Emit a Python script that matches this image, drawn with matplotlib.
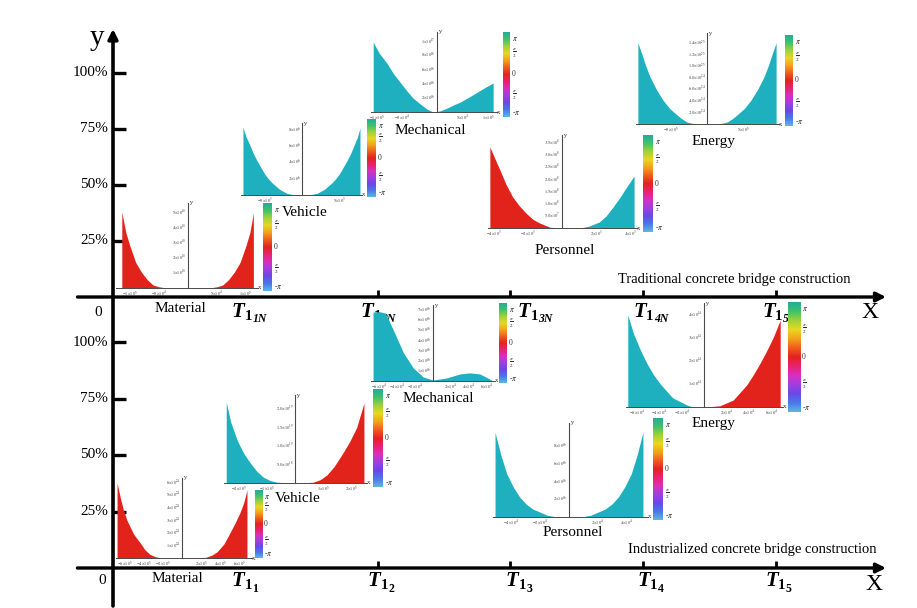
import matplotlib
matplotlib.use('Agg')
import numpy as np
import matplotlib.pyplot as plt
from matplotlib.colors import LinearSegmentedColormap
from matplotlib.markers import TICKUP, TICKRIGHT
from matplotlib.transforms import offset_copy

plt.rcParams['font.family'] = ['Liberation Serif', 'DejaVu Serif']
plt.rcParams['mathtext.fontset'] = 'stix'

W, H = 917, 608
TEAL = '#1eb0bf'
RED = '#e2231c'

# ---------------- data ----------------
pct_values = [0.25, 0.50, 0.75, 1.00]
pct_labels = ['25%', '50%', '75%', '100%']
stage_pos = [1, 2, 3, 4, 5]
tick_stages = [2, 3, 4, 5]
stage_sub1 = ['1', '1', '1', '1', '1']
top_stage_sub2 = ['1N', '2N', '3N', '4N', '5N']
bot_stage_sub2 = ['1', '2', '3', '4', '5']
section_titles = ['Traditional concrete bridge construction',
                  'Industrialized concrete bridge construction']
cbar_ticks = [-np.pi, -np.pi / 2, 0, np.pi / 2, np.pi]
cbar_labels = [r'-$\pi$', r'$\frac{\pi}{2}$', '0', r'$\frac{\pi}{2}$', r'$\pi$']

# --- Traditional: Material
tm_x_left = [-11.4, -10.7, -10, -9, -8, -7, -6, -5, -4, -3, 0]
tm_y_left = [5.07, 3.7, 2.8, 1.7, 1.05, 0.55, 0.2, 0.08, 0.02, 0, 0]
tm_x_right = [0, 3, 4, 5, 6, 7, 8, 9, 10, 10.7, 11.3]
tm_y_right = [0, 0, 0.02, 0.08, 0.2, 0.55, 1.05, 1.7, 2.8, 3.7, 5.0]
tm_xticks = [-10, -5, 5, 10]
tm_xtl = [r'$-1{\times}10^5$', r'$-5{\times}10^4$', r'$5{\times}10^4$', r'$1{\times}10^5$']
tm_yticks = [1, 2, 3, 4, 5]
tm_ytl = [r'$%d{\times}10^{10}$' % v for v in tm_yticks]

# --- Traditional: Vehicle
tv_x_left = [-7.87, -7.5, -7, -6.5, -6, -5.5, -5, -4.5, -4, -3, -2, -1, 0]
tv_y_left = [8.3, 7.2, 6.2, 5.1, 4.2, 3.4, 2.6, 2.0, 1.5, 0.7, 0.2, 0.02, 0]
tv_x_right = [0, 1, 2, 3, 4, 4.5, 5, 5.5, 6, 6.5, 7, 7.4, 7.73]
tv_y_right = [0, 0.02, 0.2, 0.7, 1.5, 2.0, 2.6, 3.4, 4.2, 5.1, 6.2, 7.1, 8.2]
tv_xticks = [-5, 5]
tv_xtl = [r'$-5{\times}10^3$', r'$5{\times}10^3$']
tv_yticks = [2, 4, 6, 8]
tv_ytl = [r'$%d{\times}10^6$' % v for v in tv_yticks]

# --- Traditional: Mechanical
tme_x_left = [-11.6, -10.5, -9.1, -8, -6.7, -5.5, -4.4, -3, -1.8, -0.7]
tme_y_left = [9.85, 8.3, 6.9, 5.5, 4.2, 3.0, 2.0, 1.1, 0.4, 0]
tme_x_right = [-0.7, 0.5, 1.8, 3, 4.2, 5.8, 7.3, 8.8, 10.2]
tme_y_right = [0, 0.15, 0.55, 1.0, 1.4, 2.1, 2.8, 3.5, 4.1]
tme_xticks = [-11, -6.4, 4.7, 9.3]
tme_xtl = [r'$-1{\times}10^5$', r'$-5{\times}10^4$', r'$5{\times}10^4$', r'$1{\times}10^5$']
tme_yticks = [2, 4, 6, 8, 10]
tme_ytl = [r'$2{\times}10^{16}$', r'$4{\times}10^{16}$', r'$6{\times}10^{16}$',
           r'$8{\times}10^{16}$', r'$1{\times}10^{17}$']

# --- Traditional: Energy
te_x_left = [-9.6, -9, -8.5, -7.9, -7, -6.1, -5.2, -4.2, -3.5, -2.8, -2, -1, 0]
te_y_left = [14.0, 11.9, 10.0, 8.1, 5.9, 4.1, 2.7, 1.6, 0.9, 0.35, 0.1, 0, 0]
te_x_right = [0, 1, 2, 2.8, 3.5, 4.2, 5.2, 6.1, 7, 7.9, 8.5, 9, 9.6]
te_y_right = [0, 0, 0.1, 0.35, 0.9, 1.6, 2.7, 4.1, 5.9, 8.1, 10.0, 11.9, 14.0]
te_xticks = [-5, 5]
te_xtl = [r'$-5{\times}10^5$', r'$5{\times}10^5$']
te_yticks = [2, 4, 6, 8, 10, 12, 14]
te_ytl = [r'$2.0{\times}10^{24}$', r'$4.0{\times}10^{24}$', r'$6.0{\times}10^{24}$',
          r'$8.0{\times}10^{24}$', r'$1.0{\times}10^{25}$', r'$1.2{\times}10^{25}$',
          r'$1.4{\times}10^{25}$']

# --- Traditional: Personnel
tp_x_left = [-4.24, -3.95, -3.65, -3.3, -2.9, -2.5, -2.1, -1.7, -1.3, -0.7, 0]
tp_y_left = [3.32, 2.85, 2.38, 1.8, 1.27, 0.9, 0.6, 0.35, 0.2, 0.03, 0]
tp_x_right = [0, 1.06, 1.6, 2.2, 2.6, 3.0, 3.4, 3.8, 4.24]
tp_y_right = [0, 0, 0.08, 0.25, 0.5, 0.86, 1.25, 1.68, 2.13]
tp_xticks = [-4, -2, 2, 4]
tp_xtl = [r'$-4{\times}10^3$', r'$-2{\times}10^3$', r'$2{\times}10^3$', r'$4{\times}10^3$']
tp_yticks = [0.5, 1.0, 1.5, 2.0, 2.5, 3.0, 3.5]
tp_ytl = [r'$5.0{\times}10^7$'] + [r'$%.1f{\times}10^8$' % v for v in tp_yticks[1:]]

# --- Industrialized: Material
bm_x_left = [-6.84, -6.5, -6.2, -5.8, -5.1, -4.4, -3.9, -3.4, -2.8, -2.3, 0]
bm_y_left = [5.95, 4.8, 3.9, 3.0, 1.9, 1.2, 0.65, 0.3, 0.1, 0.02, 0]
bm_x_right = [0, 2.5, 3.2, 3.7, 4.4, 5.05, 5.6, 6.1, 6.5, 6.84]
bm_y_right = [0, 0.05, 0.25, 0.5, 1.1, 2.0, 2.8, 3.6, 4.4, 5.4]
bm_xticks = [-6, -4, -2, 2, 4, 6]
bm_xtl = [r'$%d{\times}10^5$' % v for v in bm_xticks]
bm_yticks = [1, 2, 3, 4, 5, 6]
bm_ytl = [r'$%d{\times}10^{24}$' % v for v in bm_yticks]

# --- Industrialized: Vehicle
bv_x_left = [-2.46, -2.3, -2.07, -1.85, -1.6, -1.37, -1.14, -0.9, -0.64, 0]
bv_y_left = [2.19, 1.65, 1.16, 0.82, 0.54, 0.32, 0.16, 0.07, 0.02, 0]
bv_x_right = [0, 0.64, 0.9, 1.14, 1.4, 1.7, 1.95, 2.2, 2.46]
bv_y_right = [0, 0.02, 0.09, 0.22, 0.45, 0.8, 1.12, 1.5, 2.16]
bv_xticks = [-2, -1, 1, 2]
bv_xtl = [r'$-2{\times}10^5$', r'$-1{\times}10^5$', r'$1{\times}10^5$', r'$2{\times}10^5$']
bv_yticks = [0.5, 1.0, 1.5, 2.0]
bv_ytl = [r'$5.0{\times}10^{18}$', r'$1.0{\times}10^{19}$', r'$1.5{\times}10^{19}$', r'$2.0{\times}10^{19}$']

# --- Industrialized: Mechanical
bme_x_left = [-6.67, -6.0, -5.3, -4.4, -3.3, -2.2, -1.1, 0]
bme_y_left = [6.8, 6.85, 6.7, 5.0, 2.8, 1.3, 0.4, 0.1]
bme_x_right = [0, 1.5, 3.0, 4.1, 5.2, 6.1, 6.55]
bme_y_right = [0.1, 0.3, 0.7, 0.8, 0.7, 0.3, 0.05]
bme_xticks = [-6, -4, -2, 2, 4, 6]
bme_xtl = [r'$%d{\times}10^4$' % v for v in bme_xticks]
bme_yticks = [1, 2, 3, 4, 5, 6, 7]
bme_ytl = [r'$%d{\times}10^{16}$' % v for v in bme_yticks]

# --- Industrialized: Energy
be_x_left = [-6.8, -6.3, -5.7, -5.1, -4.5, -3.9, -2.8, -1.5, -1.0, 0]
be_y_left = [4.0, 3.2, 2.5, 1.9, 1.4, 1.0, 0.4, 0.08, 0, 0]
be_x_right = [0, 1.4, 2.6, 3.8, 4.4, 5.0, 5.6, 6.2, 6.8]
be_y_right = [0, 0.05, 0.3, 0.95, 1.4, 1.9, 2.45, 3.05, 3.78]
be_xticks = [-6, -4, -2, 2, 4, 6]
be_xtl = [r'$%d{\times}10^4$' % v for v in be_xticks]
be_yticks = [1, 2, 3, 4]
be_ytl = [r'$%d{\times}10^{14}$' % v for v in be_yticks]

# --- Industrialized: Personnel
bp_x_left = [-5.1, -4.7, -4.3, -3.85, -3.4, -2.95, -2.5, -1.5, -1.0, 0]
bp_y_left = [9.55, 7.0, 4.9, 3.4, 2.25, 1.45, 0.9, 0.2, 0.05, 0]
bp_x_right = [0, 1.0, 1.5, 2.5, 2.95, 3.4, 3.85, 4.3, 4.7, 5.1]
bp_y_right = [0, 0.05, 0.2, 0.9, 1.45, 2.25, 3.4, 4.9, 7.0, 9.55]
bp_xticks = [-4, -2, 2, 4]
bp_xtl = [r'$%d{\times}10^4$' % v for v in bp_xticks]
bp_yticks = [2, 4, 6, 8]
bp_ytl = [r'$%d{\times}10^{16}$' % v for v in bp_yticks]

# ---------------- layout ----------------
insets = [
    dict(name='Material', box=(116, 203, 258, 288), xlim=(-12.4, 12.1), ylim=(0, 5.67),
         xl=tm_x_left, yl=tm_y_left, xr=tm_x_right, yr=tm_y_right, cl=RED, cr=RED,
         xt=tm_xticks, xtl=tm_xtl, yt=tm_yticks, ytl=tm_ytl,
         cbar=(263, 203, 272, 291), npos=(180, 309)),
    dict(name='Vehicle', box=(241, 123, 362, 195), xlim=(-8.13, 8.0), ylim=(0, 8.8),
         xl=tv_x_left, yl=tv_y_left, xr=tv_x_right, yr=tv_y_right, cl=TEAL, cr=TEAL,
         xt=tv_xticks, xtl=tv_xtl, yt=tv_yticks, ytl=tv_ytl,
         cbar=(367, 119, 376, 197), npos=(305, 213)),
    dict(name='Mechanical', box=(371, 32, 497, 112), xlim=(-12.0, 10.9), ylim=(0, 11.3),
         xl=tme_x_left, yl=tme_y_left, xr=tme_x_right, yr=tme_y_right, cl=TEAL, cr=TEAL,
         xt=tme_xticks, xtl=tme_xtl, yt=tme_yticks, ytl=tme_ytl,
         cbar=(503, 32, 510, 117), npos=(430, 130)),
    dict(name='Energy', box=(636, 33, 779, 124), xlim=(-9.86, 10.0), ylim=(0, 15.7),
         xl=te_x_left, yl=te_y_left, xr=te_x_right, yr=te_y_right, cl=TEAL, cr=TEAL,
         xt=te_xticks, xtl=te_xtl, yt=te_yticks, ytl=te_ytl,
         cbar=(785, 35, 793, 126), npos=(713, 142)),
    dict(name='Personnel', box=(488, 135, 637, 228), xlim=(-4.35, 4.41), ylim=(0, 3.81),
         xl=tp_x_left, yl=tp_y_left, xr=tp_x_right, yr=tp_y_right, cl=RED, cr=TEAL,
         xt=tp_xticks, xtl=tp_xtl, yt=tp_yticks, ytl=tp_ytl,
         cbar=(643, 135, 653, 232), npos=(565, 251)),
    dict(name='Material', box=(116, 478, 252, 558), xlim=(-6.95, 7.37), ylim=(0, 6.35),
         xl=bm_x_left, yl=bm_y_left, xr=bm_x_right, yr=bm_y_right, cl=RED, cr=RED,
         xt=bm_xticks, xtl=bm_xtl, yt=bm_yticks, ytl=bm_ytl,
         cbar=(255, 490, 262, 558), npos=(177, 578)),
    dict(name='Vehicle', box=(224, 395, 367, 483), xlim=(-2.54, 2.57), ylim=(0, 2.38),
         xl=bv_x_left, yl=bv_y_left, xr=bv_x_right, yr=bv_y_right, cl=TEAL, cr=RED,
         xt=bv_xticks, xtl=bv_xtl, yt=bv_yticks, ytl=bv_ytl,
         cbar=(373, 389, 383, 487), npos=(298, 498)),
    dict(name='Mechanical', box=(371, 305, 495, 381), xlim=(-6.9, 6.9), ylim=(0, 7.5),
         xl=bme_x_left, yl=bme_y_left, xr=bme_x_right, yr=bme_y_right, cl=TEAL, cr=TEAL,
         xt=bme_xticks, xtl=bme_xtl, yt=bme_yticks, ytl=bme_ytl,
         cbar=(499, 303, 507, 383), npos=(438, 398)),
    dict(name='Energy', box=(626, 303, 783, 407), xlim=(-6.96, 7.05), ylim=(0, 4.52),
         xl=be_x_left, yl=be_y_left, xr=be_x_right, yr=be_y_right, cl=TEAL, cr=RED,
         xt=be_xticks, xtl=be_xtl, yt=be_yticks, ytl=be_ytl,
         cbar=(788, 302, 800, 412), npos=(713, 424)),
    dict(name='Personnel', box=(493, 423, 648, 517), xlim=(-5.24, 5.45), ylim=(0, 10.6),
         xl=bp_x_left, yl=bp_y_left, xr=bp_x_right, yr=bp_y_right, cl=TEAL, cr=TEAL,
         xt=bp_xticks, xtl=bp_xtl, yt=bp_yticks, ytl=bp_ytl,
         cbar=(653, 418, 663, 520), npos=(573, 533)),
]

phase_cmap = LinearSegmentedColormap.from_list('phase', [
    '#5cb6e4', '#4a78e8', '#6a48e6', '#a23ee0', '#d92fc0', '#e9226e', '#e3221f',
    '#ee5d1d', '#f3a21c', '#e9d722', '#9fd23a', '#3fc26a', '#22ad9c'])

fig = plt.figure(figsize=(W / 100, H / 100), dpi=100)

# pixel-space canvas for free text
main = fig.add_axes([0, 0, 1, 1], label='main')
main.set_xlim(0, W)
main.set_ylim(H, 0)
main.axis('off')

ORIGIN, UNIT = 112, 132.8


def section(base, scale, key):
    ax = fig.add_axes([0, 0, 1, 1], label=key)
    ax.set_xlim(-ORIGIN / UNIT, (W - ORIGIN) / UNIT)
    ax.set_ylim(-(H - base) / scale, base / scale)
    ax.axis('off')
    return ax


def stage_label(ax, p, dx, dy, s1, s2, s2_italic):
    t = ax.text(p, 0, 'T', fontsize=15, style='italic', weight='bold',
                ha='left', va='baseline',
                transform=offset_copy(ax.transData, fig, x=dx, y=dy, units='dots'))
    a = ax.annotate(s1, xy=(1, 0), xycoords=t, xytext=(0.2, 1.2),
                    textcoords='offset points', fontsize=10.5, weight='bold',
                    ha='left', va='baseline')
    ax.annotate(s2, xy=(1, 0), xycoords=a, xytext=(0.2, 0.6),
                textcoords='offset points', fontsize=8.5, weight='bold',
                style='italic' if s2_italic else 'normal', ha='left', va='baseline')


top = section(297, 224, 'top')
bot = section(568, 226, 'bot')

# main vertical axis (spans both sections)
main.annotate('', xy=(113, 29), xytext=(113, 606),
              arrowprops=dict(arrowstyle='-|>', lw=2.6, color='k',
                              mutation_scale=14, shrinkA=0, shrinkB=0))
main.text(97, 38, 'y', fontsize=21, ha='center', va='center')

for ax, subs2, ital, lab_dx, lab_dy, zero_xy, X_xy in [
        (top, top_stage_sub2, True, [-13, -17, 7, -10, -14], -20, (98, 312), (870, 312)),
        (bot, bot_stage_sub2, False, [-13, -10, -5, -6, -11], -18, (102, 580), (874, 584))]:
    ax.annotate('', xy=((886 - ORIGIN) / UNIT, 0), xytext=(-0.26, 0),
                arrowprops=dict(arrowstyle='-|>', lw=2.4, color='k',
                                mutation_scale=14, shrinkA=0, shrinkB=0))
    ax.plot(tick_stages, [0] * len(tick_stages), ls='none', marker=TICKUP,
            ms=5, mew=2, color='k')
    ax.plot([1 / UNIT] * len(pct_values), pct_values, ls='none', marker=TICKRIGHT,
            ms=9, mew=2.4, color='k')
    for v, l in zip(pct_values, pct_labels):
        ax.text(0, v, l, fontsize=11, ha='right', va='center',
                transform=offset_copy(ax.transData, fig, x=-4, y=0, units='dots'))
    for p, s1, s2, dx in zip(stage_pos, stage_sub1, subs2, lab_dx):
        stage_label(ax, p, dx, lab_dy, s1, s2, ital)
    main.text(zero_xy[0], zero_xy[1], '0', fontsize=11, ha='center', va='center')
    main.text(X_xy[0], X_xy[1], 'X', fontsize=17, ha='center', va='center')

main.text(851, 280, section_titles[0], fontsize=10.5, ha='right', va='center')
main.text(876, 550, section_titles[1], fontsize=10.5, ha='right', va='center')

LINE = '#4a4a4a'
for s in insets:
    x0, y0, x1, y1 = s['box']
    ax = fig.add_axes([x0 / W, 1 - y1 / H, (x1 - x0) / W, (y1 - y0) / H])
    ax.set_xlim(*s['xlim'])
    ax.set_ylim(*s['ylim'])
    ax.axis('off')
    ax.fill_between(s['xl'], 0, s['yl'], color=s['cl'], lw=0)
    ax.fill_between(s['xr'], 0, s['yr'], color=s['cr'], lw=0)
    ax.plot(s['xlim'], [0, 0], color=LINE, lw=0.7, clip_on=False)
    ax.plot([0, 0], s['ylim'], color=LINE, lw=0.8, clip_on=False)
    tl = offset_copy(ax.transData, fig, x=-1.5, y=0, units='dots')
    for v, l in zip(s['yt'], s['ytl']):
        ax.text(0, v, l, fontsize=3.2, ha='right', va='center', color='#333',
                transform=tl, clip_on=False)
    tb = offset_copy(ax.transData, fig, x=0, y=-1.5, units='dots')
    for v, l in zip(s['xt'], s['xtl']):
        ax.text(v, 0, l, fontsize=3.2, ha='center', va='top', color='#333',
                transform=tb, clip_on=False)
    ax.text(s['xlim'][1], 0, 'x', fontsize=5, ha='left', va='center', color='#333',
            clip_on=False)
    ax.text(0, s['ylim'][1], ' y', fontsize=5, ha='left', va='center', color='#333',
            clip_on=False)
    # phase colour bar
    c0, cy0, c1, cy1 = s['cbar']
    cax = fig.add_axes([c0 / W, 1 - cy1 / H, (c1 - c0) / W, (cy1 - cy0) / H])
    grad = np.linspace(-np.pi, np.pi, 256).reshape(-1, 1)
    cax.imshow(grad, aspect='auto', cmap=phase_cmap, origin='lower',
               extent=[0, 1, -np.pi, np.pi])
    cax.set_xlim(0, 1)
    cax.set_ylim(-np.pi, np.pi)
    cax.axis('off')
    for v, l in zip(cbar_ticks, cbar_labels):
        if v == np.pi:
            va, dy = 'top', -3
        elif v == -np.pi:
            va, dy = 'bottom', 0
        else:
            va, dy = 'center', 0
        cax.text(1.0, v, l, fontsize=5.5, ha='left', va=va, color='#333',
                 clip_on=False,
                 transform=offset_copy(cax.transData, fig, x=2, y=dy, units='dots'))
    main.text(s['npos'][0], s['npos'][1], s['name'], fontsize=11,
              ha='center', va='center')

fig.savefig('out.png', dpi=100)
